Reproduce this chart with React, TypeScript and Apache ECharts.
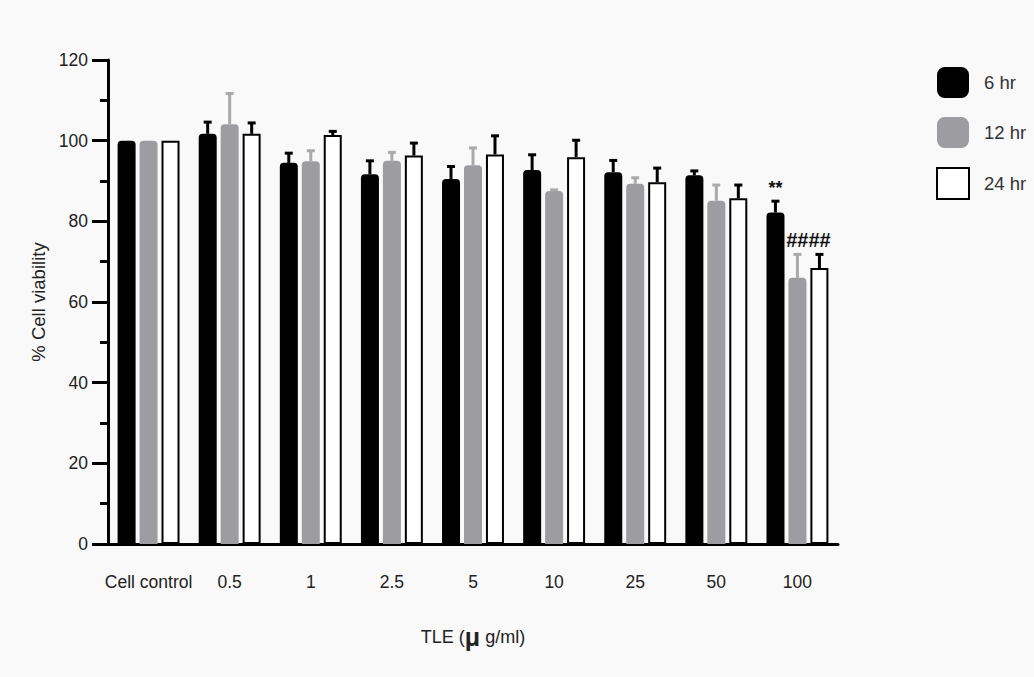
import React, { useEffect, useRef } from "react";
import * as echarts from "echarts";

const categories = ["Cell control", "0.5", "1", "2.5", "5", "10", "25", "50", "100"];
const seriesNames = ["6 hr", "12 hr", "24 hr"];
const hr6 = [100, 101.7, 94.5, 91.7, 90.5, 92.7, 92.2, 91.4, 82.2];
const hr6Err = [0, 2.9, 2.4, 3.3, 3.1, 3.8, 2.9, 1.1, 2.8];
const hr12 = [100, 104.1, 94.9, 95.0, 93.9, 87.5, 89.3, 85.1, 66.0];
const hr12Err = [0, 7.6, 2.6, 2.1, 4.3, 0.3, 1.5, 3.9, 5.8];
const hr24 = [100, 101.7, 101.4, 96.3, 96.6, 95.9, 89.7, 85.7, 68.4];
const hr24Err = [0, 2.7, 0.9, 3.1, 4.6, 4.2, 3.5, 3.3, 3.4];
const hr6Marks = ["", "", "", "", "", "", "", "", "**"];
const hr12_24Marks = ["", "", "", "", "", "", "", "", "####"];

const FONT = "Liberation Sans, Arial, Helvetica, sans-serif";
const BAR_W = 18;
const OFFSETS = [-22, 0, 22];

export default function App() {
  const ref = useRef<HTMLDivElement>(null);
  useEffect(() => {
    if (!ref.current) return;
    const chart = echarts.init(ref.current, undefined, { renderer: "svg" });
    const means = [hr6, hr12, hr24];
    const errs = [hr6Err, hr12Err, hr24Err];
    const barColors = ["#000000", "#9d9ca1", "#ffffff"];
    const errColors = ["#000000", "#a9a9ab", "#000000"];

    const errSeries = [0, 1, 2].map((s) => ({
      type: "custom",
      name: seriesNames[s] + " err",
      z: 5,
      silent: true,
      clip: false,
      data: categories.map((_, i) => [i, means[s][i], errs[s][i]]),
      encode: { x: 0, y: 1 },
      renderItem: (params: any, api: any) => {
        const i = api.value(0);
        const m = api.value(1);
        const e = api.value(2);
        const base = api.coord([i, m]);
        const top = api.coord([i, m + e]);
        const cx = base[0] + OFFSETS[s];
        const children: any[] = [];
        if (e > 0) {
          children.push({
            type: "line",
            shape: { x1: cx, y1: top[1], x2: cx, y2: base[1] },
            style: { stroke: errColors[s], lineWidth: 3 },
          });
          children.push({
            type: "line",
            shape: { x1: cx - 4, y1: top[1], x2: cx + 4, y2: top[1] },
            style: { stroke: errColors[s], lineWidth: 3 },
          });
        }
        if (s === 0 && hr6Marks[i]) {
          children.push({
            type: "text",
            style: {
              text: hr6Marks[i],
              x: cx,
              y: top[1] - 13,
              textAlign: "center",
              textVerticalAlign: "middle",
              font: `bold 18px ${FONT}`,
              fill: "#111",
            },
          });
        }
        if (s === 1 && hr12_24Marks[i]) {
          const top2 = api.coord([i, Math.max(m + e, means[2][i] + errs[2][i])]);
          children.push({
            type: "text",
            style: {
              text: hr12_24Marks[i],
              x: cx + 11,
              y: top2[1] - 14,
              textAlign: "center",
              textVerticalAlign: "middle",
              font: `bold 20px ${FONT}`,
              fill: "#111",
            },
          });
        }
        return { type: "group", children };
      },
    }));

    const barSeries = [0, 1, 2].map((s) => ({
      type: "bar",
      name: seriesNames[s],
      data: means[s],
      barWidth: BAR_W,
      barGap: "22%",
      itemStyle:
        s === 2
          ? { color: "#ffffff", borderColor: "#000", borderWidth: 2 }
          : { color: barColors[s], borderRadius: [4, 4, 0, 0] },
    }));

    chart.setOption({
      animation: false,
      backgroundColor: "#f9f9f9",
      textStyle: { fontFamily: FONT },
      grid: { left: 108, top: 60, width: 730, height: 484, containLabel: false },
      legend: {
        orient: "vertical",
        left: 936,
        top: 67,
        padding: 0,
        itemWidth: 32,
        itemHeight: 31,
        itemGap: 19,
        textStyle: { fontSize: 18.5, color: "#333", padding: [0, 0, 0, 10], fontFamily: FONT },
        data: [
          { name: "6 hr", icon: "roundRect" },
          { name: "12 hr", icon: "roundRect" },
          { name: "24 hr", icon: "rect" },
        ],
      },
      xAxis: {
        type: "category",
        data: categories,
        axisLine: { lineStyle: { color: "#000", width: 3 } },
        axisTick: { alignWithLabel: true, length: 17, lineStyle: { color: "#000", width: 3 } },
        axisLabel: { interval: 0, fontSize: 17.5, color: "#222", margin: 29, fontFamily: FONT },
        name: "TLE ({mu|μ} g/ml)",
        nameLocation: "middle",
        nameGap: 80,
        nameTextStyle: {
          fontSize: 18,
          color: "#222",
          fontFamily: FONT,
          rich: { mu: { fontSize: 25, fontWeight: "bold", color: "#222", fontFamily: FONT } },
        },
      },
      yAxis: {
        type: "value",
        min: 0,
        max: 120,
        interval: 20,
        axisLine: { show: true, lineStyle: { color: "#000", width: 3 } },
        axisTick: { show: true, length: 16, lineStyle: { color: "#000", width: 3 } },
        minorTick: { show: true, splitNumber: 2, length: 8, lineStyle: { color: "#000", width: 3 } },
        splitLine: { show: false },
        axisLabel: { fontSize: 17.5, color: "#222", margin: 20, fontFamily: FONT },
        name: "% Cell viability",
        nameLocation: "middle",
        nameGap: 55,
        nameRotate: 90,
        nameTextStyle: { fontSize: 18.5, color: "#222", fontFamily: FONT },
      },
      series: [...barSeries, ...errSeries],
    });
    return () => chart.dispose();
  }, []);
  return (
    <div
      ref={ref}
      style={{ position: "fixed", left: 0, top: 0, width: 1034, height: 677 }}
    />
  );
}
